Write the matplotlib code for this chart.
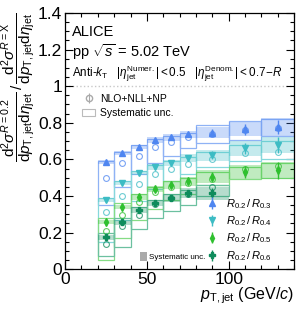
import numpy as np
import matplotlib as mpl
mpl.use("Agg")
from matplotlib import pyplot as plt
from matplotlib.patches import Patch

plt.rcParams['font.family'] = ['Liberation Sans', 'DejaVu Sans']
plt.rcParams['mathtext.fontset'] = 'custom'
plt.rcParams['mathtext.rm'] = 'Liberation Sans'
plt.rcParams['mathtext.it'] = 'Liberation Sans:italic'
plt.rcParams['mathtext.bf'] = 'Liberation Sans:bold'

# pT bins (GeV/c)
bin_edges = [20, 30, 40, 50, 60, 70, 80, 100, 120, 140]

# R0.2 / R0.3
r03_val = [0.585, 0.634, 0.667, 0.705, 0.720, 0.737, 0.745, 0.765, 0.776]
r03_stat = [0.005, 0.005, 0.006, 0.008, 0.010, 0.013, 0.020, 0.030, 0.040]
r03_sys = [0.010, 0.012, 0.012, 0.015, 0.018, 0.020, 0.030, 0.038, 0.050]
r03_th = [0.500, 0.580, 0.620, 0.667, 0.694, 0.720, 0.740, 0.760, 0.770]
r03_th_lo = [0.350, 0.450, 0.520, 0.580, 0.620, 0.660, 0.690, 0.705, 0.730]
r03_th_hi = [0.590, 0.640, 0.680, 0.710, 0.730, 0.745, 0.787, 0.810, 0.820]

# R0.2 / R0.4
r04_val = [0.377, 0.470, 0.525, 0.557, 0.580, 0.607, 0.623, 0.660, 0.678]
r04_stat = [0.005, 0.006, 0.007, 0.009, 0.012, 0.015, 0.022, 0.032, 0.042]
r04_sys = [0.012, 0.012, 0.013, 0.015, 0.018, 0.022, 0.030, 0.040, 0.045]
r04_th = [0.310, 0.400, 0.465, 0.520, 0.546, 0.575, 0.600, 0.634, 0.640]
r04_th_lo = [0.150, 0.270, 0.370, 0.440, 0.480, 0.520, 0.560, 0.590, 0.600]
r04_th_hi = [0.390, 0.480, 0.535, 0.570, 0.590, 0.615, 0.640, 0.680, 0.700]

# R0.2 / R0.5
r05_val = [0.257, 0.340, 0.394, 0.437, 0.460, 0.480, 0.505, 0.530, 0.540]
r05_stat = [0.006, 0.007, 0.008, 0.010, 0.013, 0.016, 0.024, 0.034, 0.045]
r05_sys = [0.012, 0.013, 0.014, 0.016, 0.020, 0.024, 0.035, 0.040, 0.045]
r05_th = [0.210, 0.295, 0.366, 0.420, 0.450, 0.470, 0.490, 0.546, 0.563]
r05_th_lo = [0.050, 0.170, 0.270, 0.330, 0.380, 0.410, 0.460, 0.490, 0.500]
r05_th_hi = [0.280, 0.360, 0.410, 0.450, 0.480, 0.500, 0.530, 0.560, 0.580]

# R0.2 / R0.6
r06_val = [0.175, 0.257, 0.322, 0.360, 0.388, 0.415, 0.415]
r06_stat = [0.007, 0.008, 0.010, 0.012, 0.015, 0.018, 0.028]
r06_sys = [0.014, 0.014, 0.015, 0.017, 0.022, 0.026, 0.035]
r06_th = [0.140, 0.235, 0.295, 0.355, 0.390, 0.410, 0.448]
r06_th_lo = [0.070, 0.120, 0.220, 0.280, 0.320, 0.350, 0.400]
r06_th_hi = [0.200, 0.280, 0.340, 0.380, 0.410, 0.430, 0.460]

labels = [r'$R_{0.2}\,/\,R_{0.3}$', r'$R_{0.2}\,/\,R_{0.4}$',
          r'$R_{0.2}\,/\,R_{0.5}$', r'$R_{0.2}\,/\,R_{0.6}$']
colors = ['#4f86f0', '#3dbcc4', '#2fc02f', '#0e8c5c']
light = ['#8fb2f5', '#86d8dc', '#85dc85', '#6cc0a0']
markers = ['^', 'v', 'd', 'P']

series = [
    (r03_val, r03_stat, r03_sys, r03_th, r03_th_lo, r03_th_hi),
    (r04_val, r04_stat, r04_sys, r04_th, r04_th_lo, r04_th_hi),
    (r05_val, r05_stat, r05_sys, r05_th, r05_th_lo, r05_th_hi),
    (r06_val, r06_stat, r06_sys, r06_th, r06_th_lo, r06_th_hi),
]

edges = np.array(bin_edges, dtype=float)
centers = 0.5 * (edges[1:] + edges[:-1])
widths = edges[1:] - edges[:-1]

fig = plt.figure(figsize=(3.07, 3.17), dpi=100)
ax = fig.add_axes([0.212, 0.151, 0.746, 0.808])

data_handles = []
for (val, stat, sys, th, lo, hi), c, lc, m, lab in zip(series, colors, light, markers, labels):
    n = len(val)
    x = centers[:n]
    w = widths[:n]
    val = np.array(val)
    sys = np.array(sys)
    lo = np.array(lo)
    hi = np.array(hi)
    # theory uncertainty, open boxes
    ax.bar(edges[:n], hi - lo, width=w, bottom=lo, align='edge', fill=False,
           edgecolor=lc, linewidth=0.9, zorder=2)
    # data systematics, shaded boxes
    ax.bar(edges[:n], 2 * sys, width=w, bottom=val - sys, align='edge',
           color=c, alpha=0.3, linewidth=0, zorder=3)
    ax.plot(x, th, ls='none', marker='o', ms=4.2, mfc='none', mec=c, mew=0.8,
            alpha=0.75, zorder=4)
    h = ax.errorbar(x, val, yerr=stat, fmt=m, color=c, ms=4.3 if m != 'd' else 4,
                    elinewidth=1, capsize=0, zorder=5, label=lab)
    data_handles.append(h)

ax.axhline(1, color='#c8c8c8', ls=':', lw=1, zorder=1)

ax.set_xlim(0, 140)
ax.set_ylim(0, 1.4)
ax.xaxis.set_major_locator(mpl.ticker.MultipleLocator(50))
ax.xaxis.set_minor_locator(mpl.ticker.MultipleLocator(10))
ax.yaxis.set_major_locator(mpl.ticker.MultipleLocator(0.2))
ax.yaxis.set_minor_locator(mpl.ticker.MultipleLocator(0.05))
ax.yaxis.set_major_formatter(mpl.ticker.FormatStrFormatter('%g'))
ax.tick_params(which='both', direction='in', top=True, right=True, labelsize=12.5, width=0.8)
ax.tick_params(which='major', length=6, pad=2)
ax.tick_params(which='minor', length=3)
for s in ax.spines.values():
    s.set_linewidth(0.9)

ax.set_xlabel(r'$p_{\rm T,jet}$ (GeV/$c$)', fontsize=11.5, loc='right', labelpad=-1)
ax.set_ylabel(r'$\dfrac{{\rm d}^2\sigma^{R=0.2}}{{\rm d}p_{\rm T,jet}{\rm d}\eta_{\rm jet}}\,/\,'
              r'\dfrac{{\rm d}^2\sigma^{R={\rm X}}}{{\rm d}p_{\rm T,jet}{\rm d}\eta_{\rm jet}}$',
              fontsize=11, loc='top', labelpad=0)

ax.text(0.03, 0.955, 'ALICE', transform=ax.transAxes, fontsize=10.5, va='top')
ax.text(0.03, 0.885, r'pp $\sqrt{s}$ = 5.02 TeV', transform=ax.transAxes, fontsize=10.5, va='top')
ax.text(0.03, 0.805, r'Anti-$k_{\rm T}$   $|\eta_{\rm jet}^{\rm Numer.}| < 0.5$   '
        r'$|\eta_{\rm jet}^{\rm Denom.}| < 0.7\!-\!R$',
        transform=ax.transAxes, fontsize=8.4, va='top')

# theory legend
th_handles = [
    ax.errorbar([], [], yerr=[], fmt='o', ms=4.5, mfc='none', mec='#aaaaaa',
                ecolor='#aaaaaa', elinewidth=0.8, capsize=2),
    Patch(facecolor='none', edgecolor='#bbbbbb', linewidth=0.8),
]
leg1 = ax.legend(th_handles, ['NLO+NLL+NP', 'Systematic unc.'], loc='upper left',
                 bbox_to_anchor=(0.05, 0.705), frameon=False, fontsize=7.5,
                 handlelength=1.3, handletextpad=0.5, labelspacing=0.45, borderpad=0)
ax.add_artist(leg1)

leg2 = ax.legend(data_handles, labels, loc='lower left', bbox_to_anchor=(0.58, -0.01),
                 frameon=False, fontsize=8, handlelength=0.9, handletextpad=0.8,
                 labelspacing=0.32, borderpad=0.3)
ax.add_artist(leg2)

leg3 = ax.legend([Patch(facecolor='#aaaaaa', edgecolor='none')], ['Systematic unc.'],
                 loc='lower left', bbox_to_anchor=(0.31, 0.015), frameon=False, fontsize=5.8,
                 handlelength=0.8, handleheight=1.4, handletextpad=0.3, borderpad=0)

fig.savefig('out.png', dpi=100)
